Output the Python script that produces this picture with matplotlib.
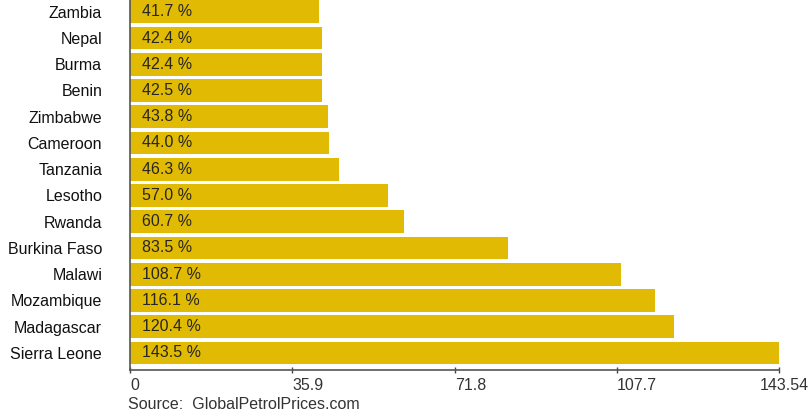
import matplotlib
matplotlib.use("Agg")
import matplotlib.pyplot as plt
from matplotlib.transforms import ScaledTranslation

countries = ["Zambia", "Nepal", "Burma", "Benin", "Zimbabwe", "Cameroon", "Tanzania",
             "Lesotho", "Rwanda", "Burkina Faso", "Malawi", "Mozambique", "Madagascar",
             "Sierra Leone"]
values = [41.7, 42.4, 42.4, 42.5, 43.8, 44.0, 46.3, 57.0, 60.7, 83.5, 108.7, 116.1, 120.4, 143.5]
tick_vals = [0, 35.9, 71.8, 107.7, 143.54]
tick_labels = ["0", "35.9", "71.8", "107.7", "143.54"]
source = "Source:  GlobalPetrolPrices.com"

plt.rcParams['font.family'] = ['Liberation Sans', 'DejaVu Sans']

fig = plt.figure(figsize=(8.11, 4.19), dpi=100)
ax = fig.add_axes([130/811, (419-370)/419, (779-130)/811, 370/419])

ypos = list(range(len(countries)))
ax.barh(ypos, values, height=0.865, color="#E1BA03", edgecolor="none")
for y, v in zip(ypos, values):
    ax.text(2.6, y, f"{v:.1f} %", va="center", ha="left", fontsize=11.5, color="#262626")

ax.set_xlim(0, 143.54)
ax.set_ylim(13.65, -0.448)
ax.set_yticks(ypos)
ax.set_yticklabels(countries, fontsize=11.5, color="#111111")
ax.tick_params(axis="y", length=0, pad=20)
ax.set_xticks(tick_vals)
ax.set_xticklabels(tick_labels, fontsize=11.5, color="#333333")
ax.tick_params(axis="x", direction="inout", length=5, width=1, color="#444444", pad=3)
for i, lbl in enumerate(ax.get_xticklabels()):
    if i < len(tick_vals) - 1:
        lbl.set_ha("left")
    else:
        lbl.set_ha("center")
        lbl.set_transform(lbl.get_transform() + ScaledTranslation(5/100, 0, fig.dpi_scale_trans))

for s in ["top", "right"]:
    ax.spines[s].set_visible(False)
ax.spines["left"].set_color("#555555")
ax.spines["bottom"].set_color("#555555")
ax.spines["left"].set_linewidth(1.2)
ax.spines["bottom"].set_linewidth(1.2)

fig.text(128/811, 1 - 404/419, source, ha="left", va="center", fontsize=11.5, color="#333333")

fig.savefig("out.png", dpi=100)
